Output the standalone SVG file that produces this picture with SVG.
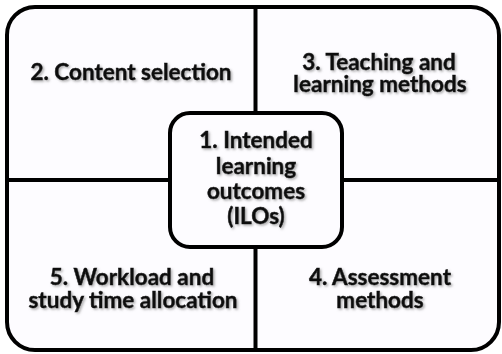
<svg xmlns="http://www.w3.org/2000/svg" width="502" height="354" viewBox="0 0 502 354">
<defs>
<filter id="sh" x="-10%" y="-20%" width="120%" height="150%">
<feDropShadow dx="1.5" dy="1.5" stdDeviation="1" flood-color="#777" flood-opacity="0.6"/>
</filter>
<style>
.box{fill:#fdfcff;stroke:#000;stroke-width:4}
.ln{stroke:#000;stroke-width:4;fill:none}
.t{font-family:Lato,"Liberation Sans",sans-serif;font-weight:bold;font-size:22.5px;fill:#111;stroke:#111;stroke-width:0.5;text-anchor:middle;filter:url(#sh)}
</style>
</defs>
<rect width="502" height="354" fill="#fff"/>
<g id="frame"><rect class="box" x="7" y="7" width="492" height="343" rx="28"/></g>
<g id="connectors">
<line class="ln" x1="255.5" y1="7" x2="255.5" y2="113"/>
<line class="ln" x1="255.5" y1="247" x2="255.5" y2="350"/>
<line class="ln" x1="7" y1="180" x2="170" y2="180"/>
<line class="ln" x1="342" y1="180" x2="499" y2="180"/>
</g>
<g id="n2"><text class="t" x="131" y="80">2. Content selection</text></g>
<g id="n3"><text class="t" x="379" y="70">3. Teaching and</text><text class="t" x="380" y="92">learning methods</text></g>
<g id="n5"><text class="t" x="132" y="285">5. Workload and</text><text class="t" x="133" y="308">study time allocation</text></g>
<g id="n4"><text class="t" x="380" y="285">4. Assessment</text><text class="t" x="380" y="308">methods</text></g>
<g id="n1"><rect class="box" x="170" y="113" width="172" height="134" rx="20"/>
<text class="t" x="256" y="148">1. Intended</text><text class="t" x="256" y="174">learning</text><text class="t" x="256" y="199">outcomes</text><text class="t" x="256" y="224">(ILOs)</text></g>
</svg>
